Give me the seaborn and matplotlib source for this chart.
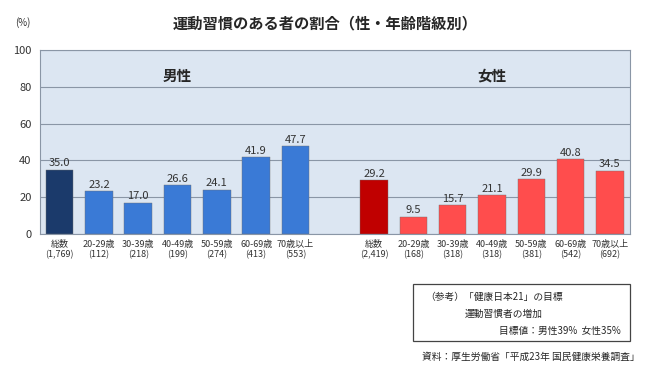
import numpy as np
import pandas as pd
import matplotlib
matplotlib.use('Agg')
import matplotlib.pyplot as plt
import seaborn as sns

# ---- データ ----
age_groups = ['総数', '20-29歳', '30-39歳', '40-49歳', '50-59歳', '60-69歳', '70歳以上']
male_n = ['1,769', '112', '218', '199', '274', '413', '553']
female_n = ['2,419', '168', '318', '318', '381', '542', '692']
male_rate = [35.0, 23.2, 17.0, 26.6, 24.1, 41.9, 47.7]
female_rate = [29.2, 9.5, 15.7, 21.1, 29.9, 40.8, 34.5]

male_labels = [f'{a}\n({n})' for a, n in zip(age_groups, male_n)]
female_labels = [f'{a}\n({n})' for a, n in zip(age_groups, female_n)]
order = male_labels + [''] + female_labels

df = pd.DataFrame({
    'label': male_labels + female_labels,
    'rate': male_rate + female_rate,
})

palette = {}
for i, lab in enumerate(male_labels):
    palette[lab] = '#1b3a6b' if i == 0 else '#3a7ad6'
for i, lab in enumerate(female_labels):
    palette[lab] = '#c00000' if i == 0 else '#ff4d4d'

sns.set_style('white')
plt.rcParams['font.family'] = ['Noto Sans CJK JP', 'DejaVu Sans']

fig = plt.figure(figsize=(6.5, 3.83), dpi=100)
ax = fig.add_axes([0.0615, 0.389, 0.907, 0.48])

sns.barplot(data=df, x='label', y='rate', hue='label', order=order,
            palette=palette, width=0.7, saturation=1, legend=False, ax=ax,
            edgecolor='#6f6f6f', linewidth=0.3, zorder=3)

for cont in ax.containers:
    ax.bar_label(cont, fmt='%.1f', padding=1, fontsize=8, color='#333333')

ax.set_facecolor('#dce6f2')
ax.set_ylim(0, 100)
ax.set_yticks(range(0, 101, 20))
ax.yaxis.grid(True, color='#8a96a6', linewidth=0.8, zorder=0)
ax.set_axisbelow(True)
for s in ax.spines.values():
    s.set_color('#8a96a6')
    s.set_linewidth(0.8)
ax.set_xlim(-0.5, len(order) - 0.5)
ax.set_xlabel('')
ax.set_ylabel('')
ax.tick_params(axis='y', labelsize=8, length=0, pad=6, labelcolor='#333333')
ax.tick_params(axis='x', labelsize=6.5, length=0, pad=4, labelcolor='#333333')

ax.text(3, 86, '男性', ha='center', va='center', fontsize=10.5, fontweight='bold')
ax.text(11, 86, '女性', ha='center', va='center', fontsize=10.5, fontweight='bold')

fig.text(0.5, 0.94, '運動習慣のある者の割合（性・年齢階級別）', ha='center', va='center',
         fontsize=11, fontweight='bold')
fig.text(0.035, 0.94, '(%)', ha='center', va='center', fontsize=7, color='#333333')

# 参考ボックス
box = plt.Rectangle((0.636, 0.11), 0.333, 0.148, transform=fig.transFigure,
                    fill=False, edgecolor='#444444', linewidth=0.9)
fig.add_artist(box)
fig.text(0.655, 0.225, '（参考）「健康日本21」の目標', fontsize=7, va='center')
fig.text(0.715, 0.18, '運動習慣者の増加', fontsize=7, va='center')
fig.text(0.955, 0.135, '目標値：男性39%  女性35%', fontsize=7, va='center', ha='right')
fig.text(0.985, 0.068, '資料：厚生労働省「平成23年 国民健康栄養調査」', fontsize=7,
         va='center', ha='right')

fig.savefig('out.png', dpi=100)
